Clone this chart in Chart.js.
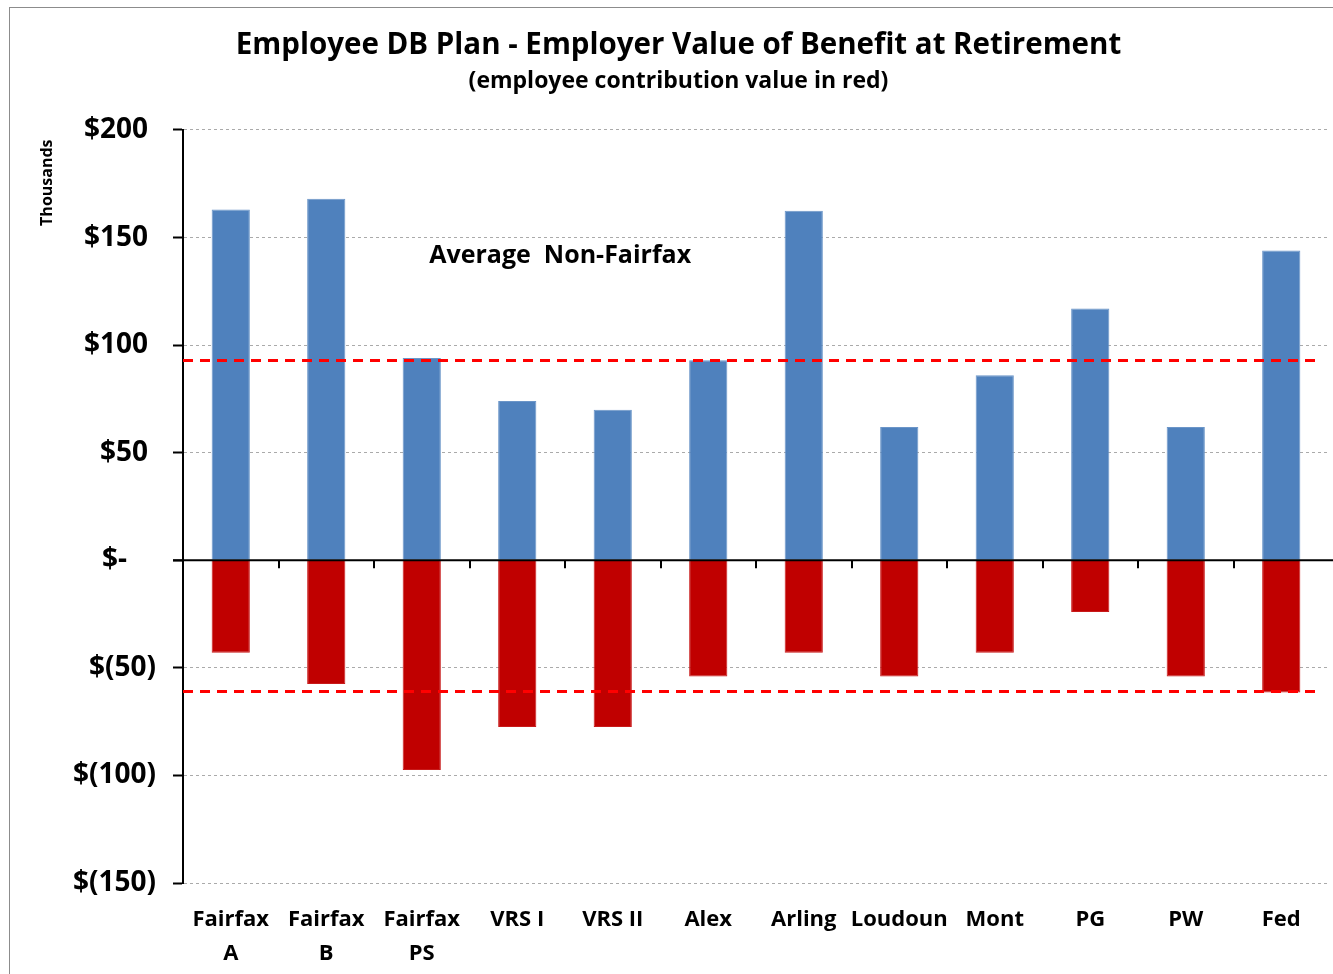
<!DOCTYPE html>
<html>
<head>
<meta charset="utf-8">
<script src="https://cdn.jsdelivr.net/npm/chart.js@4.4.1/dist/chart.umd.min.js"></script>
<style>
    body { margin: 0; background: #fff; }
    #frame { position: absolute; left: 9px; top: 7px; width: 1340px; height: 980px; border-left: 1px solid #8c8c8c; border-top: 1px solid #8c8c8c; }
    #wrap { position: absolute; left: 0; top: 0; width: 1333px; height: 974px; }
</style>
</head>
<body>
<div id="frame"></div>
<div id="wrap"><canvas id="dbChart" width="1333" height="974"></canvas></div>
<script>
const categories = [["Fairfax", "A"], ["Fairfax", "B"], ["Fairfax", "PS"], "VRS I", "VRS II", "Alex", "Arling", "Loudoun", "Mont", "PG", "PW", "Fed"];
const employerValue = [163, 168, 94, 74, 70, 93, 162.5, 62, 86, 117, 62, 144];
const employeeValue = [-43, -57.5, -97.5, -77.5, -77.5, -54, -43, -54, -43, -24, -54, -61.5];
const averageLines = [92.8, -61];
const averageLabel = "Average  Non-Fairfax";

const fontName = "'Open Sans'";

function money(v) {
    if (v === 0) return "$-    ";
    if (v < 0) return "$(" + Math.abs(v) + ")";
    return "$" + v + "\u2008";
}

// red dashed averages, zero line, the small ticks on it, and the side note
const extras = {
    id: "extras",
    afterDatasetsDraw(chart) {
        const ctx = chart.ctx;
        const x = chart.scales.x;
        const y = chart.scales.y;
        const area = chart.chartArea;
        const zero = y.getPixelForValue(0);

        ctx.save();
        ctx.strokeStyle = "#000";
        ctx.lineWidth = 2;
        ctx.beginPath();
        ctx.moveTo(area.left - 10, zero);
        ctx.lineTo(chart.width, zero);
        ctx.stroke();

        for (let i = 1; i < categories.length; i++) {
            const px = Math.round(x.getPixelForValue(i - 0.5));
            ctx.beginPath();
            ctx.moveTo(px, zero);
            ctx.lineTo(px, zero + 8);
            ctx.stroke();
        }

        ctx.strokeStyle = "#ff0000";
        ctx.lineWidth = 3;
        ctx.setLineDash([10, 7]);
        averageLines.forEach((v, i) => {
            const py = y.getPixelForValue(v);
            ctx.beginPath();
            ctx.moveTo(area.left, py);
            ctx.lineTo(area.right - (i === 0 ? 9 : 14), py);
            ctx.stroke();
        });
        ctx.setLineDash([]);

        ctx.fillStyle = "#000";
        ctx.font = "bold 25px " + fontName;
        ctx.textAlign = "center";
        ctx.textBaseline = "middle";
        ctx.fillText(averageLabel, x.getPixelForValue(3.45), y.getPixelForValue(141.5));

        ctx.font = "bold 16px " + fontName;
        ctx.translate(47, y.getPixelForValue(175.5));
        ctx.rotate(-Math.PI / 2);
        ctx.fillText("Thousands", 0, 0);
        ctx.restore();
    }
};

new Chart(document.getElementById("dbChart"), {
    type: "bar",
    data: {
        labels: categories,
        datasets: [
            {
                label: "Employer value",
                data: employerValue,
                backgroundColor: "#4f81bd",
                borderColor: "#6b95c8",
                borderWidth: 1
            },
            {
                label: "Employee contribution",
                data: employeeValue,
                backgroundColor: "#c00000",
                borderColor: "#c81a1a",
                borderWidth: 1
            }
        ]
    },
    options: {
        responsive: false,
        animation: false,
        layout: { padding: { left: 28, right: 4, top: 0, bottom: 0 } },
        datasets: { bar: { categoryPercentage: 1, barPercentage: 0.4 } },
        plugins: {
            legend: { display: false },
            tooltip: { enabled: false },
            title: {
                display: true,
                text: "Employee DB Plan - Employer Value of Benefit at Retirement",
                color: "#000",
                font: { family: fontName, size: 29.5, weight: "bold", lineHeight: 1.25 },
                padding: { top: 27, bottom: 0 }
            },
            subtitle: {
                display: true,
                text: "(employee contribution value in red)",
                color: "#000",
                font: { family: fontName, size: 23, weight: "bold", lineHeight: 1.2 },
                padding: { top: 4, bottom: 34.5 }
            }
        },
        scales: {
            x: {
                stacked: true,
                grid: { display: false },
                border: { display: false },
                ticks: {
                    color: "#000",
                    font: { family: fontName, size: 22, weight: "bold", lineHeight: 1.55 },
                    padding: 12,
                    maxRotation: 0,
                    autoSkip: false
                },
                afterFit(scale) { scale.height = 91; }
            },
            y: {
                stacked: true,
                min: -150,
                max: 200,
                ticks: {
                    stepSize: 50,
                    color: "#000",
                    font: { family: fontName, size: 28, weight: "bold" },
                    padding: 17,
                    callback: v => money(v)
                },
                grid: {
                    color: ctx => ctx.tick && ctx.tick.value === 0 ? "rgba(0,0,0,0)" : "#aaaaaa",
                    lineWidth: 1,
                    tickColor: "#000",
                    tickWidth: 2,
                    tickLength: 10,
                    tickBorderDash: []
                },
                border: { display: true, color: "#000", width: 2, dash: [3, 3] },
                afterFit(scale) { scale.width = 155; }
            }
        }
    },
    plugins: [extras]
});
</script>
</body>
</html>
